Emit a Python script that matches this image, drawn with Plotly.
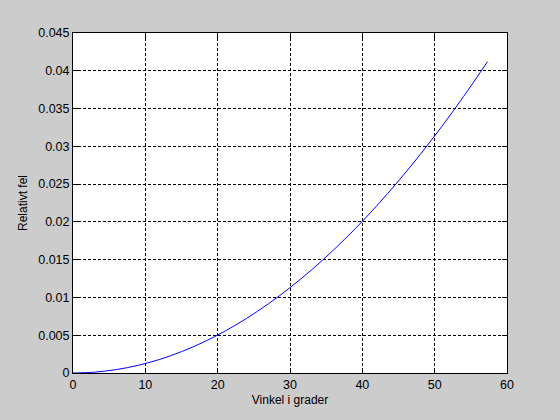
import plotly.graph_objects as go

# angle in degrees and relative error
vinkel = [0, 3, 6, 9, 12, 15, 18, 21, 24, 27, 30, 33, 36, 39, 42, 45, 48, 51, 54, 57.3]
relativt_fel = [0.0, 0.000113, 0.000452, 0.001017, 0.001807, 0.002824, 0.004066,
                0.005535, 0.007229, 0.009149, 0.011295, 0.013667, 0.016265,
                0.019089, 0.022139, 0.025414, 0.028916, 0.032643, 0.036597, 0.0412]

x_ticks = [0, 10, 20, 30, 40, 50, 60]
y_ticks = [0, 0.005, 0.01, 0.015, 0.02, 0.025, 0.03, 0.035, 0.04, 0.045]
y_labels = ["0", "0.005", "0.01", "0.015", "0.02", "0.025", "0.03", "0.035", "0.04", "0.045"]

fig = go.Figure()
fig.add_trace(go.Scatter(x=vinkel, y=relativt_fel, mode="lines",
                         line=dict(color="#0000FF", width=1, shape="spline"),
                         showlegend=False))

axis_style = dict(showline=True, linecolor="black", linewidth=1, mirror="ticks",
                  ticks="inside", ticklen=5, tickcolor="black",
                  showgrid=True, gridcolor="black", gridwidth=1, griddash="3px,2px",
                  zeroline=False, tickfont=dict(color="black", size=12.5))

fig.update_xaxes(range=[0, 60], tickvals=x_ticks,
                 title=dict(text="Vinkel i grader", font=dict(size=12, color="black"), standoff=4),
                 **axis_style)
fig.update_yaxes(range=[0, 0.045], tickvals=y_ticks, ticktext=y_labels,
                 title=dict(text="Relativt fel", font=dict(size=12, color="black"), standoff=8),
                 **axis_style)

fig.update_layout(
    width=560, height=420,
    margin=dict(l=73, r=53, t=33, b=47),
    paper_bgcolor="#CCCCCC",
    plot_bgcolor="white",
    font=dict(family="Liberation Sans, Arial, sans-serif", size=12, color="black"),
)

# drop the page's default body margin so the figure sits at the window corner
fig.write_html("out.html", config={"displayModeBar": False},
               post_script="document.body.style.margin='0';document.body.style.background='#CCCCCC';")
